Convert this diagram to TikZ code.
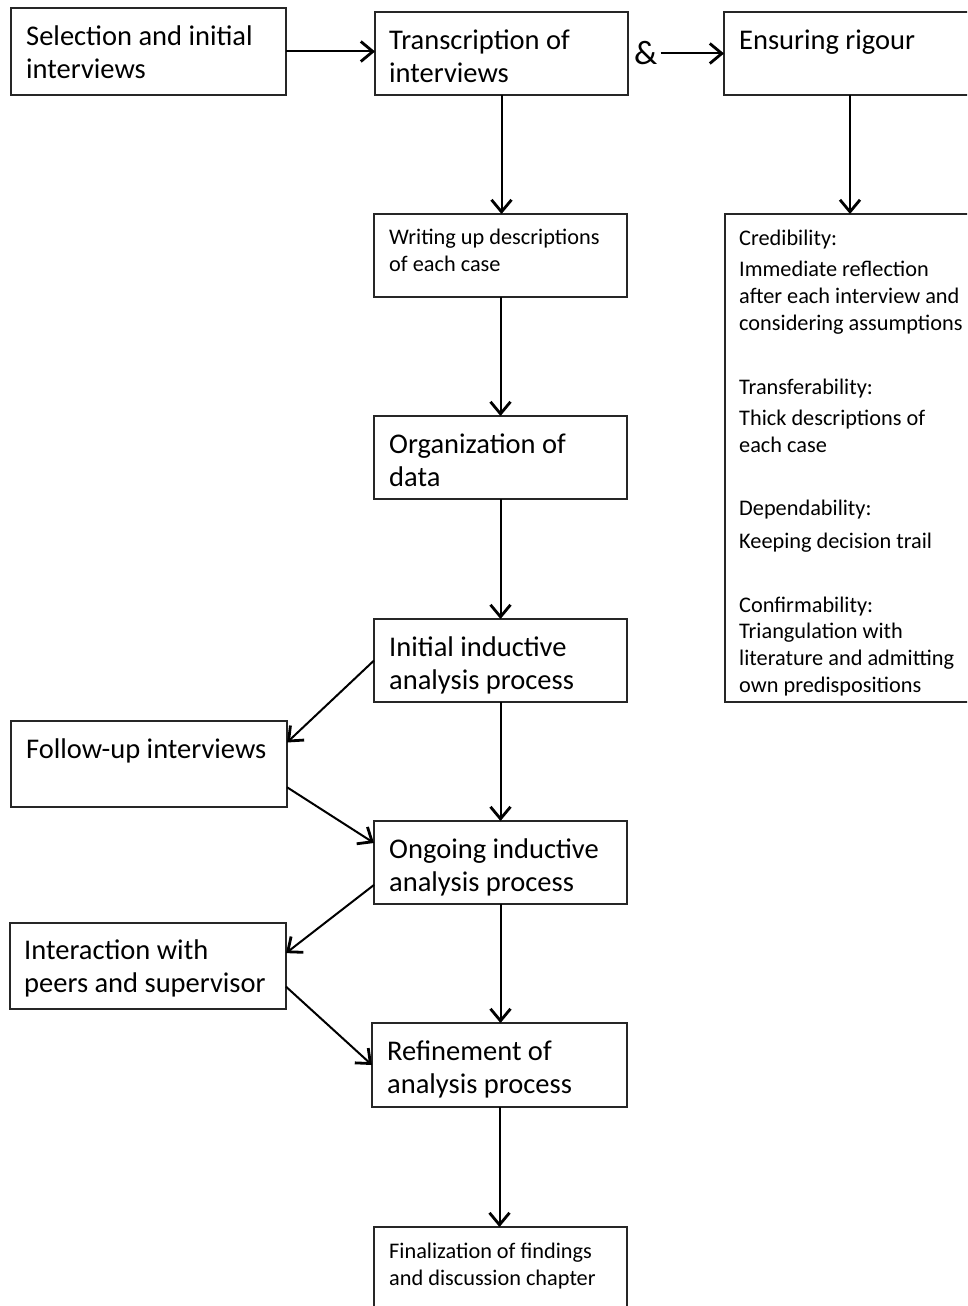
\documentclass[tikz,border=0pt]{standalone}
\usepackage{fontspec}
\setmainfont{Carlito}
\usetikzlibrary{arrows.meta,calc}
\begin{document}
\begin{tikzpicture}[x=1pt,y=-1pt,
  bx/.style={draw=black!85, line width=1.4pt, inner sep=0pt, outer sep=0pt, anchor=north west},
  big/.style={font=\fontsize{28.5}{32.5}\selectfont, align=left, inner sep=0pt, anchor=base west},
  sml/.style={font=\fontsize{22.3}{26.6}\selectfont, align=left, inner sep=0pt, anchor=base west},
  arr/.style={line width=2pt, -{Straight Barb[length=12pt,width=20pt,line width=2.8pt]}}]
\useasboundingbox (0,0) rectangle (967,1306);
\clip (0,0) rectangle (967,1306);
\fill[white] (0,0) rectangle (967,1306);

% boxes
\node[bx, minimum width=275pt, minimum height=87pt] (sel) at (11,8) {};
\node[bx, minimum width=253pt, minimum height=83pt] (trans) at (375,12) {};
\node[bx, minimum width=252pt, minimum height=83pt] (ens) at (724,12) {};
\node[bx, minimum width=253pt, minimum height=83pt] (write) at (374,214) {};
\node[bx, minimum width=250pt, minimum height=488pt] (rig) at (725,214) {};
\node[bx, minimum width=253pt, minimum height=83pt] (org) at (374,416) {};
\node[bx, minimum width=253pt, minimum height=83pt] (init) at (374,619) {};
\node[bx, minimum width=276pt, minimum height=86pt] (follow) at (11,721) {};
\node[bx, minimum width=253pt, minimum height=83pt] (ongo) at (374,821) {};
\node[bx, minimum width=276pt, minimum height=86pt] (inter) at (10,923) {};
\node[bx, minimum width=255pt, minimum height=84pt] (refine) at (372,1023) {};
\node[bx, minimum width=253pt, minimum height=110pt] (final) at (374,1227) {};

% texts (anchor = baseline of last line)
\node[big] (selt) at (26,78) {Selection and initial\\interviews};
\node[big] (transt) at (389,82) {Transcription of\\interviews};
\node[big] (enst) at (739,49) {Ensuring rigour};
\node[font=\fontsize{34}{36}\selectfont, inner sep=0pt, anchor=base west] (amp) at (634,64) {\&};
\node[sml] (writet) at (389,271) {Writing up descriptions\\of each case};
\node[big] (orgt) at (389,486) {Organization of\\data};
\node[big] (initt) at (389,689) {Initial inductive\\analysis process};
\node[big] (followt) at (26,758) {Follow-up interviews};
\node[big] (ongot) at (389,891) {Ongoing inductive\\analysis process};
\node[big] (intert) at (24,992) {Interaction with\\peers and supervisor};
\node[big] (refinet) at (387,1093) {Refinement of\\analysis process};
\node[sml] (finalt) at (389,1285) {Finalization of findings\\and discussion chapter};

\node[sml] (cred) at (739,245) {Credibility:};
\node[sml] (credt) at (739,330) {Immediate reflection\\after each interview and\\considering assumptions};
\node[sml] (trf) at (739,394) {Transferability:};
\node[sml] (trft) at (739,452) {Thick descriptions of\\each case};
\node[sml] (dep) at (739,515) {Dependability:};
\node[sml] (dept) at (739,548) {Keeping decision trail};
\node[sml] (conf) at (739,692) {Confirmability:\\Triangulation with\\literature and admitting\\own predispositions};

% connectors
\coordinate (ampend) at ([xshift=3pt]amp.east |- ens.west);
\draw[arr] (sel.east) -- (sel.east -| trans.west);
\draw[arr] (ampend) -- (ens.west);
\draw[arr] (trans.south) -- (trans.south |- write.north);
\draw[arr] (ens.south) -- (ens.south |- rig.north);
\draw[arr] (write.south) -- (write.south |- org.north);
\draw[arr] (org.south) -- (org.south |- init.north);
\draw[arr] (init.south) -- (init.south |- ongo.north);
\draw[arr] (ongo.south) -- (ongo.south |- refine.north);
\draw[arr] (refine.south) -- (refine.south |- final.north);
\draw[arr] (init.west) -- ($(follow.north east)!0.25!(follow.south east)$);
\draw[arr] ($(follow.north east)!0.77!(follow.south east)$) -- ($(ongo.north west)!0.265!(ongo.south west)$);
\draw[arr] ($(ongo.north west)!0.77!(ongo.south west)$) -- ($(inter.north east)!0.35!(inter.south east)$);
\draw[arr] ($(inter.north east)!0.74!(inter.south east)$) -- (refine.west);
\end{tikzpicture}
\end{document}
